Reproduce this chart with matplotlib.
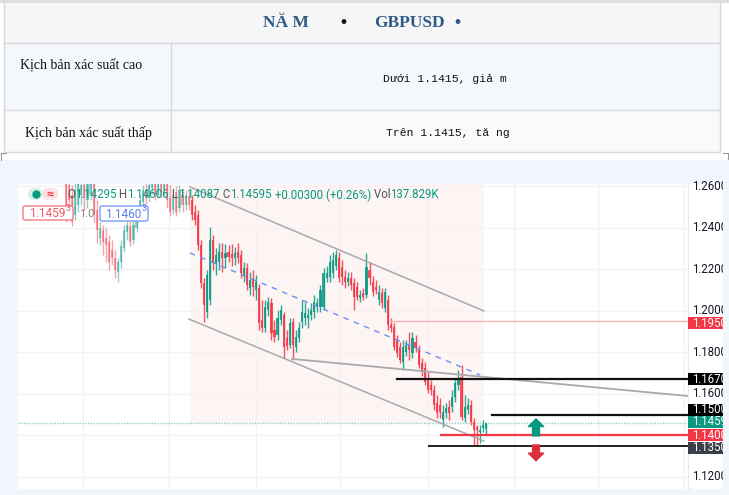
import numpy as np
import matplotlib.pyplot as plt
from matplotlib.colors import to_rgba
from matplotlib.patches import Rectangle, FancyBboxPatch

plt.rcParams['font.family'] = ['Roboto', 'DejaVu Sans']

# ---------------- data (GBPUSD candles) ----------------
opens = [1.2656, 1.2607, 1.2559, 1.2463, 1.2511, 1.2559, 1.2607, 1.2535, 1.2559, 1.2631,
         1.2487, 1.2352, 1.2390, 1.2352, 1.2333, 1.2294, 1.2255, 1.2188, 1.2236, 1.2304,
         1.2381, 1.2410, 1.2342, 1.2400, 1.2477, 1.2525, 1.2583, 1.2545, 1.2593, 1.2631,
         1.2559, 1.2612, 1.2583, 1.2617, 1.2545, 1.2487, 1.2574, 1.2496, 1.2559, 1.2511,
         1.2554, 1.2535, 1.2477, 1.2463, 1.2318, 1.2135, 1.1995, 1.2053, 1.2342, 1.2227,
         1.2236, 1.2284, 1.2255, 1.2284, 1.2275, 1.2255, 1.2284, 1.2270, 1.2173, 1.2207,
         1.2111, 1.2159, 1.2101, 1.2111, 1.1957, 1.1918, 1.2005, 1.2039, 1.1908, 1.1884,
         1.1957, 1.1981, 1.1870, 1.1836, 1.1947, 1.1826, 1.1870, 1.1947, 1.1966, 1.1966,
         1.1981, 1.1995, 1.2019, 1.2019, 1.2019, 1.2159, 1.2164, 1.2183, 1.2217, 1.2255,
         1.2212, 1.2164, 1.2140, 1.2159, 1.2135, 1.2116, 1.2063, 1.2087, 1.2077, 1.2198,
         1.2140, 1.2116, 1.2053, 1.2087, 1.2014, 1.2053, 1.1932, 1.1923, 1.1860, 1.1826,
         1.1754, 1.1802, 1.1836, 1.1798, 1.1851, 1.1812, 1.1749, 1.1725, 1.1677, 1.1643,
         1.1619, 1.1557, 1.1547, 1.1475, 1.1508, 1.1537, 1.1537, 1.1585, 1.1643, 1.1682,
         1.1484, 1.1523, 1.1547, 1.1465, 1.1441, 1.1417, 1.1436, 1.1430]
highs = [1.2680, 1.2641, 1.2607, 1.2656, 1.2670, 1.2656, 1.2641, 1.2670, 1.2680, 1.2670,
         1.2535, 1.2429, 1.2414, 1.2400, 1.2366, 1.2342, 1.2294, 1.2255, 1.2342, 1.2414,
         1.2448, 1.2439, 1.2463, 1.2511, 1.2559, 1.2607, 1.2622, 1.2641, 1.2670, 1.2656,
         1.2641, 1.2651, 1.2656, 1.2641, 1.2607, 1.2593, 1.2602, 1.2607, 1.2593, 1.2583,
         1.2583, 1.2559, 1.2511, 1.2487, 1.2342, 1.2159, 1.2198, 1.2405, 1.2366, 1.2304,
         1.2328, 1.2328, 1.2323, 1.2318, 1.2323, 1.2308, 1.2328, 1.2294, 1.2236, 1.2231,
         1.2188, 1.2198, 1.2173, 1.2130, 1.2053, 1.2053, 1.2067, 1.2063, 1.1957, 1.2005,
         1.2029, 1.1995, 1.1908, 1.1966, 1.1966, 1.1908, 1.1947, 1.2053, 1.2043, 1.2014,
         1.2039, 1.2077, 1.2063, 1.2125, 1.2207, 1.2217, 1.2270, 1.2284, 1.2294, 1.2284,
         1.2246, 1.2198, 1.2188, 1.2188, 1.2159, 1.2140, 1.2101, 1.2111, 1.2280, 1.2236,
         1.2169, 1.2149, 1.2125, 1.2111, 1.2111, 1.2077, 1.1966, 1.1942, 1.1884, 1.1851,
         1.1860, 1.1860, 1.1899, 1.1899, 1.1884, 1.1836, 1.1773, 1.1754, 1.1706, 1.1667,
         1.1643, 1.1595, 1.1581, 1.1547, 1.1557, 1.1571, 1.1619, 1.1677, 1.1716, 1.1740,
         1.1595, 1.1581, 1.1571, 1.1484, 1.1450, 1.1450, 1.1475, 1.1461]
lows = [1.2429, 1.2487, 1.2410, 1.2439, 1.2477, 1.2511, 1.2487, 1.2496, 1.2535, 1.2429,
        1.2328, 1.2318, 1.2270, 1.2236, 1.2198, 1.2222, 1.2159, 1.2140, 1.2207, 1.2284,
        1.2342, 1.2313, 1.2323, 1.2381, 1.2448, 1.2506, 1.2516, 1.2525, 1.2564, 1.2535,
        1.2545, 1.2545, 1.2554, 1.2496, 1.2458, 1.2468, 1.2458, 1.2477, 1.2477, 1.2487,
        1.2487, 1.2439, 1.2414, 1.2294, 1.2111, 1.1947, 1.1966, 1.2029, 1.2198, 1.2173,
        1.2198, 1.2188, 1.2207, 1.2236, 1.2217, 1.2222, 1.2231, 1.2159, 1.2140, 1.2101,
        1.2077, 1.2072, 1.2053, 1.1908, 1.1899, 1.1899, 1.1976, 1.1860, 1.1851, 1.1860,
        1.1932, 1.1773, 1.1812, 1.1822, 1.1764, 1.1802, 1.1851, 1.1918, 1.1932, 1.1918,
        1.1957, 1.1966, 1.1995, 1.1995, 1.2005, 1.2140, 1.2140, 1.2159, 1.2198, 1.2140,
        1.2125, 1.2111, 1.2120, 1.2101, 1.2005, 1.2053, 1.2043, 1.2053, 1.2063, 1.2125,
        1.2072, 1.2082, 1.2029, 1.2014, 1.1995, 1.1908, 1.1899, 1.1812, 1.1778, 1.1749,
        1.1716, 1.1783, 1.1764, 1.1773, 1.1802, 1.1725, 1.1687, 1.1643, 1.1605, 1.1595,
        1.1523, 1.1484, 1.1484, 1.1441, 1.1484, 1.1475, 1.1513, 1.1561, 1.1619, 1.1475,
        1.1465, 1.1504, 1.1450, 1.1354, 1.1354, 1.1364, 1.1417, 1.1409]
closes = [1.2477, 1.2535, 1.2429, 1.2583, 1.2622, 1.2607, 1.2545, 1.2631, 1.2641, 1.2463,
          1.2390, 1.2400, 1.2333, 1.2318, 1.2236, 1.2255, 1.2198, 1.2236, 1.2313, 1.2390,
          1.2414, 1.2333, 1.2414, 1.2487, 1.2535, 1.2583, 1.2545, 1.2607, 1.2631, 1.2559,
          1.2612, 1.2574, 1.2622, 1.2535, 1.2477, 1.2559, 1.2477, 1.2583, 1.2511, 1.2559,
          1.2511, 1.2463, 1.2439, 1.2318, 1.2135, 1.2029, 1.2173, 1.2342, 1.2236, 1.2270,
          1.2284, 1.2255, 1.2280, 1.2260, 1.2255, 1.2280, 1.2255, 1.2183, 1.2207, 1.2125,
          1.2149, 1.2116, 1.2140, 1.1942, 1.1918, 1.2019, 1.2043, 1.1894, 1.1875, 1.1966,
          1.2005, 1.1826, 1.1831, 1.1942, 1.1836, 1.1875, 1.1918, 1.1995, 1.1990, 1.1981,
          1.2005, 1.2043, 1.2039, 1.2101, 1.2183, 1.2183, 1.2236, 1.2246, 1.2270, 1.2159,
          1.2164, 1.2140, 1.2159, 1.2125, 1.2067, 1.2067, 1.2077, 1.2067, 1.2212, 1.2159,
          1.2092, 1.2101, 1.2092, 1.2039, 1.2092, 1.1932, 1.1918, 1.1826, 1.1798, 1.1764,
          1.1826, 1.1836, 1.1812, 1.1870, 1.1822, 1.1740, 1.1706, 1.1658, 1.1619, 1.1619,
          1.1547, 1.1508, 1.1513, 1.1513, 1.1532, 1.1508, 1.1585, 1.1653, 1.1677, 1.1489,
          1.1537, 1.1547, 1.1465, 1.1426, 1.1426, 1.1426, 1.1450, 1.1460]
last_close = 1.14595

price_ticks = [1.26, 1.24, 1.22, 1.20, 1.18, 1.16, 1.14, 1.12]
grid_idx = [5.5, 33.6, 62, 89.4, 118, 146, 173.5, 201.5]

# drawings (candle index, price)
channel_upper = ([40.4, 136.3], [1.2598, 1.2000])
channel_lower = ([40.1, 136.3], [1.1961, 1.1373])
channel_mid = ([40.4, 135.0], [1.2280, 1.1692])
trend_line = ([73.7, 202.9], [1.1769, 1.1590])
zone_x = (40.4, 136.3)
zone_y = (1.1460, 1.2612)

levels = [1.1950, 1.1670, 1.1500, 1.1400, 1.1350]
level_from = [105.7, 108.0, 139.0, 122.3, 118.4]
level_line = ['#f9b4ba', '#111111', '#111111', '#f23645', '#222222']
level_lw = [1.0, 1.6, 1.6, 1.6, 1.4]
level_box = ['#f23645', '#000000', '#000000', '#f23645', '#3b3f4a']
# scale labels are stacked by the chart so they do not overlap
label_texts = ['1.1950', '1.1670', '1.1500', '1.1400', '1.1350', '1.1459']
label_at = [1.1940, 1.1670, 1.1523, 1.1402, 1.1340, 1.1465]

arrow_idx = 153.3
up_arrow = (1.1398, 1.1480)
down_arrow = (1.1354, 1.1278)

# table text
title_parts = [('NĂ M', 286, '#2d5a85'), ('•', 343, '#111111'),
               ('GBPUSD', 409, '#2d5a85'), ('•', 457, '#2d5a85')]
row_labels = ['Kịch bản xác suất cao', 'Kịch bản xác suất thấp']
row_texts = ['Dưới 1.1415, giả m', 'Trên 1.1415, tă ng']

RED = '#f23645'
GREEN = '#089981'
PANEL = '#f2f6fc'

fig = plt.figure(figsize=(7.29, 4.95), dpi=100)

# ---------- background / table in pixel coords ----------
bg = fig.add_axes([0, 0, 1, 1])
bg.set_xlim(0, 729)
bg.set_ylim(495, 0)
bg.axis('off')

bg.add_patch(Rectangle((0, 0), 729, 3, color='#dedede', lw=0))
bg.add_patch(Rectangle((4, 3), 716, 40, color='#f6f6f6', lw=0))
bg.add_patch(Rectangle((4, 43), 716, 67, color='#f4f8fd', lw=0))
bg.add_patch(Rectangle((4, 110), 716, 42, color='#fafafa', lw=0))
for yy in [43, 110, 152]:
    bg.plot([4, 720], [yy, yy], color='#d8d8d8', lw=1)
for xx in [4, 720]:
    bg.plot([xx, xx], [3, 152], color='#d8d8d8', lw=1)
bg.plot([171, 171], [43, 152], color='#d8d8d8', lw=1)
# corner marks
bg.plot([1, 6], [153, 153], color='#999999', lw=0.8)
bg.plot([1, 1], [153, 160], color='#999999', lw=0.8)
bg.plot([723, 728], [153, 153], color='#999999', lw=0.8)
bg.plot([728, 728], [153, 160], color='#999999', lw=0.8)

for txt, xx, col in title_parts:
    bg.text(xx, 23, txt, ha='center', va='center', color=col, fontsize=12.5,
            fontweight='bold', family='Liberation Serif')

bg.text(81, 65, row_labels[0], ha='center', va='center', fontsize=10,
        family='Liberation Serif', color='#111111')
bg.text(88, 133, row_labels[1], ha='center', va='center', fontsize=10,
        family='Liberation Serif', color='#111111')
bg.text(445, 79, row_texts[0], ha='center', va='center', fontsize=8.2,
        family='Liberation Mono', color='#111111')
bg.text(448, 133, row_texts[1], ha='center', va='center', fontsize=8.2,
        family='Liberation Mono', color='#111111')

# chart panel
bg.add_patch(Rectangle((0, 160), 729, 335, color=PANEL, lw=0))
bg.add_patch(Rectangle((18, 184), 705, 305, color='white', lw=0))

# ---------- candle chart ----------
ax = fig.add_axes([18 / 729, 6 / 495, 670 / 729, 305 / 495])
ax.set_facecolor('none')
ax.set_xlim(-15.66, 202.87)
ax.set_ylim(1.1142, 1.2612)
for s in ['top', 'left', 'bottom']:
    ax.spines[s].set_visible(False)
ax.spines['right'].set_color('#e6e8ee')
ax.tick_params(left=False, right=False, bottom=False, labelleft=False, labelbottom=False)

for p in price_ticks:
    ax.axhline(p, color='#f0f2f6', lw=1, zorder=0)
for g in grid_idx:
    ax.axvline(g, color='#f0f2f6', lw=1, zorder=0)

# highlight zone
ax.add_patch(Rectangle((zone_x[0], zone_y[0]), zone_x[1] - zone_x[0], zone_y[1] - zone_y[0],
                       facecolor='#fdeeee', alpha=0.6, lw=0, zorder=1))

o = np.array(opens)
h = np.array(highs)
l = np.array(lows)
c = np.array(closes)
idx = np.arange(len(o))
up = c >= o
faded = idx < zone_x[0]
cols = [to_rgba(GREEN if up[i] else RED, 0.45 if faded[i] else 0.85) for i in idx]
ax.vlines(idx, l, h, colors=cols, lw=1, zorder=3)
body = np.maximum(np.abs(c - o), 0.0003)
ax.bar(idx, body, bottom=np.minimum(o, c), width=0.7, color=cols, lw=0, zorder=3)

# channel + trend lines
ax.plot(*channel_upper, color='#a9a9ad', lw=1.1, zorder=4)
ax.plot(*channel_lower, color='#a9a9ad', lw=1.1, zorder=4)
ax.plot(*channel_mid, color='#6d8ff0', lw=1, ls=(0, (4, 4)), zorder=4)
ax.plot(*trend_line, color='#a9a9ad', lw=1.3, zorder=4)

# last price dotted line
ax.axhline(last_close, color=GREEN, lw=1, ls=(0, (1, 1)), alpha=0.45, zorder=2)

# horizontal levels
for lv, x0, lc, lw in zip(levels, level_from, level_line, level_lw):
    ax.plot([x0, 202.87], [lv, lv], color=lc, lw=lw, zorder=5)

# arrows
style = 'simple,head_width=1.1,head_length=0.55,tail_width=0.5'
ax.annotate('', xy=(arrow_idx, up_arrow[1]), xytext=(arrow_idx, up_arrow[0]),
            arrowprops=dict(arrowstyle=style, color=GREEN, shrinkA=0, shrinkB=0,
                            mutation_scale=10), zorder=6)
ax.annotate('', xy=(arrow_idx, down_arrow[1]), xytext=(arrow_idx, down_arrow[0]),
            arrowprops=dict(arrowstyle=style, color='#d9303e', shrinkA=0, shrinkB=0,
                            mutation_scale=10), zorder=6)

# price scale labels
ytr = ax.get_yaxis_transform()
for p in price_ticks:
    ax.text(1.006, p, f'{p:.4f}', transform=ytr, fontsize=8.3, color='#131722',
            va='center', ha='left', clip_on=False, zorder=7)
box_h = 0.0058
for txt, pos, bc in zip(label_texts, label_at, level_box + [GREEN]):
    ax.add_patch(Rectangle((1.0, pos - box_h / 2), 0.07, box_h, transform=ytr,
                           facecolor=bc, lw=0, clip_on=False, zorder=8))
    ax.text(1.006, pos, txt, transform=ytr, fontsize=8.3, color='white',
            va='center', ha='left', clip_on=False, zorder=9)

# ---------- overlay: legend, price boxes, right edge ----------
bg2 = fig.add_axes([0, 0, 1, 1])
bg2.set_xlim(0, 729)
bg2.set_ylim(495, 0)
bg2.axis('off')
bg2.patch.set_visible(False)

# panel edge on the right hides what runs past the price scale
bg2.add_patch(Rectangle((723, 160), 6, 335, color=PANEL, lw=0, zorder=10))

bg2.add_patch(FancyBboxPatch((28, 188), 14, 12, boxstyle='round,pad=0,rounding_size=6',
                             facecolor='#d7efe9', lw=0))
bg2.add_patch(FancyBboxPatch((42, 188), 16, 12, boxstyle='round,pad=0,rounding_size=6',
                             facecolor='#fde1e4', lw=0))
bg2.plot(36, 194, 'o', ms=5, color=GREEN)
bg2.text(50, 194, '≈', color=RED, fontsize=9, ha='center', va='center', fontweight='bold')

pieces = [('O', '#555555'), ('1.14295', GREEN), (' H', '#555555'), ('1.14606', GREEN),
          (' L', '#555555'), ('1.14087', GREEN), (' C', '#555555'), ('1.14595', GREEN),
          (' +0.00300 (+0.26%)', GREEN), (' Vol', '#555555'), ('137.829K', GREEN)]
t = bg2.text(67, 195, pieces[0][0], color=pieces[0][1], fontsize=8.3, ha='left', va='center')
for s, col in pieces[1:]:
    t = bg2.annotate(s, xy=(1, 0.5), xycoords=t, color=col, fontsize=8.3, ha='left', va='center')

# price boxes
bg2.add_patch(FancyBboxPatch((23, 206), 50, 14, boxstyle='round,pad=0,rounding_size=2',
                             facecolor='white', edgecolor='#f47c86', lw=1))
t = bg2.text(29, 213.5, '1.1459', color='#f05a66', fontsize=8.6, ha='left', va='center')
bg2.annotate('3', xy=(1, 0.55), xycoords=t, color='#f05a66', fontsize=6.3, ha='left', va='bottom')
bg2.text(79, 214, '1.0', color='#888888', fontsize=8, ha='left', va='center')
bg2.add_patch(FancyBboxPatch((100, 206), 48, 15, boxstyle='round,pad=0,rounding_size=2',
                             facecolor='white', edgecolor='#7c9cf5', lw=1))
t = bg2.text(105, 214, '1.1460', color='#5a7ff0', fontsize=8.6, ha='left', va='center')
bg2.annotate('3', xy=(1, 0.55), xycoords=t, color='#5a7ff0', fontsize=6.3, ha='left', va='bottom')

fig.savefig('out.png', dpi=100)
